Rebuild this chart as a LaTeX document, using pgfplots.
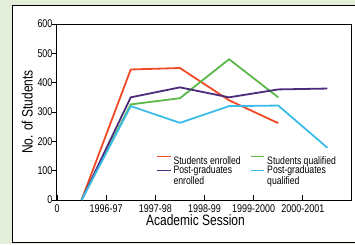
\documentclass[border=0pt]{standalone}
\usepackage{pgfplots}
\pgfplotsset{compat=1.18}
\usepackage{fontspec}
\setmainfont[FakeStretch=0.8]{Liberation Sans}
\definecolor{bgg}{HTML}{E4EEDA}
\definecolor{cor}{HTML}{F04A25}
\definecolor{cgr}{HTML}{5DB84A}
\definecolor{cpu}{HTML}{4A2C7C}
\definecolor{ccy}{HTML}{3CBDE8}
\newcommand{\rA}[1]{\raisebox{0pt}[16.4pt][13.6pt]{#1}}
\newcommand{\rB}[1]{\raisebox{0pt}[8.4pt][0.6pt]{#1}}
\newcommand{\rC}[1]{\raisebox{0pt}[8.9pt][1.1pt]{#1}}
\begin{document}
\begin{tikzpicture}
\path[use as bounding box, fill=bgg] (-57pt,-44pt) rectangle (298pt,200pt);
\fill[white] (-44pt,-42pt) rectangle (298pt,194pt);
\draw[black, line width=1pt] (298pt,194pt) -- (-44pt,194pt) -- (-44pt,-42pt) -- (298pt,-42pt);
\begin{axis}[
  at={(0pt,0pt)}, anchor=south west,
  scale only axis, width=295pt, height=176pt,
  xmin=0, xmax=6, ymin=0, ymax=600,
  xtick={0,1,2,3,4,5},
  xticklabels={0,1996-97,1997-98,1998-99,1999-2000,2000-2001},
  ytick={0,100,...,600},
  /pgf/number format/assume math mode=true,
  tick label style={font=\fontsize{11.2}{12}\selectfont},
  x tick label style={yshift=-1pt},
  y tick label style={xshift=-1pt},
  xtick pos=bottom, ytick pos=left,
  x tick style={black, thick, /pgfplots/tick align=inside},
  y tick style={black, thick, /pgfplots/tick align=outside},
  major tick length=5pt,
  axis line style={line width=1pt},
  xlabel={Academic Session},
  ylabel={No. of Students},
  label style={font=\fontsize{15}{16}\selectfont},
  xlabel style={yshift=5pt, xshift=-9pt},
  ylabel style={yshift=-2pt},
  legend columns=2,
  legend cell align=left,
  legend style={at={(rel axis cs:0.325,0.31)}, anchor=north west, draw=none, fill=none,
    font=\fontsize{10.8}{11}\selectfont, nodes={inner ysep=0pt},
    /tikz/every even column/.append style={column sep=7pt}, row sep=0pt},
  legend image post style={xscale=0.8},
  every axis plot/.append style={line width=1.8pt, line join=round},
]
\addplot[color=cor] coordinates {(0.5,0) (1.5,445) (2.5,450) (3.5,340) (4.5,262)};
\addlegendentry{\rA{Students enrolled}}
\addplot[color=cgr] coordinates {(0.5,0) (1.5,326) (2.5,347) (3.5,480) (4.5,350)};
\addlegendentry{\rA{Students qualified}}
\addplot[color=cpu] coordinates {(0.5,0) (1.5,350) (2.5,384) (3.5,350) (4.5,377) (5.5,380)};
\addlegendentry{\rB{Post-graduates}}
\addplot[color=ccy] coordinates {(0.5,0) (1.5,320) (2.5,263) (3.5,320) (4.5,322) (5.5,178)};
\addlegendentry{\rB{Post-graduates}}
\addlegendimage{empty legend}
\addlegendentry{\rC{enrolled}}
\addlegendimage{empty legend}
\addlegendentry{\rC{qualified}}
\end{axis}
\end{tikzpicture}
\end{document}
